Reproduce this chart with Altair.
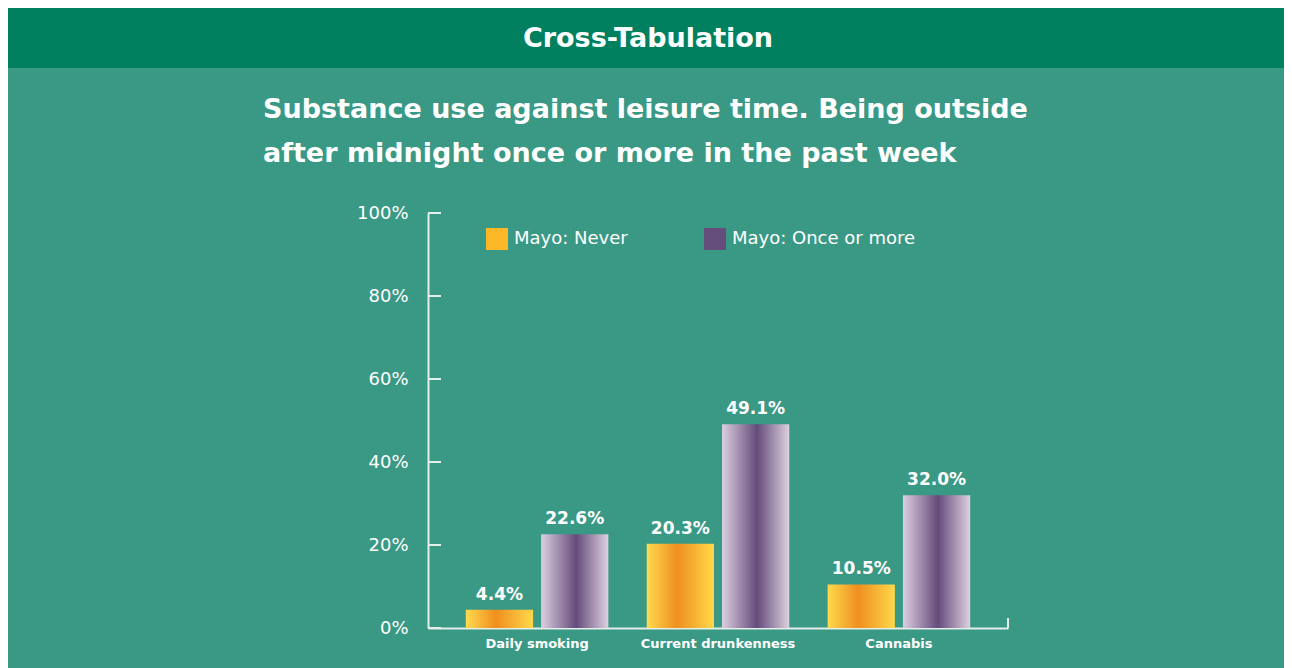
import altair as alt
import pandas as pd

categories = ["Daily smoking", "Current drunkenness", "Cannabis"]
series = ["Mayo: Never", "Mayo: Once or more"]
never_vals = [4.4, 20.3, 10.5]
once_vals = [22.6, 49.1, 32.0]
tick_vals = [0, 20, 40, 60, 80, 100]
header_text = "Cross-Tabulation"
subtitle_lines = ["Substance use against leisure time. Being outside",
                  "after midnight once or more in the past week"]

rows = []
for c, v in zip(categories, never_vals):
    rows.append({"cat": c, "series": series[0], "value": v, "label": f"{v:.1f}%"})
for c, v in zip(categories, once_vals):
    rows.append({"cat": c, "series": series[1], "value": v, "label": f"{v:.1f}%"})
df = pd.DataFrame(rows)
ticks_df = pd.DataFrame({"t": tick_vals})

W, H = 580, 415
PAD_L, PAD_T, PAD_R, PAD_B = 420, 205, 276, 40
FONT = "DejaVu Sans"
WHITE = "#ffffff"
LINE = "#e4eeeb"
BG = "#3a9985"
HEADER = "#00805f"

x_enc = alt.X("cat:N", sort=categories, title=None,
              scale=alt.Scale(paddingInner=0.212, paddingOuter=0.209),
              axis=alt.Axis(domain=True, domainColor=LINE, domainWidth=2, ticks=False,
                            labelAngle=0, labelFont=FONT, labelFontSize=13,
                            labelFontWeight=600, labelColor=WHITE, labelPadding=9))
xo_enc = alt.XOffset("series:N", sort=series,
                     scale=alt.Scale(paddingInner=0.107, paddingOuter=0))
y_enc = alt.Y("value:Q", title=None,
              scale=alt.Scale(domain=[0, 100], nice=False),
              axis=alt.Axis(values=tick_vals, labelExpr="datum.value + '%'",
                            domain=True, domainColor=LINE, domainWidth=2,
                            ticks=False, grid=False, labelFont=FONT,
                            labelFontSize=18, labelFontWeight="normal",
                            labelColor=WHITE, labelPadding=20))

base = alt.Chart(df)

grad_never = alt.Gradient(gradient="linear", x1=0, x2=1, y1=0, y2=0, stops=[
    alt.GradientStop(color="#ffda4e", offset=0),
    alt.GradientStop(color="#ef8f1f", offset=0.45),
    alt.GradientStop(color="#ffd84a", offset=1)])
grad_once = alt.Gradient(gradient="linear", x1=0, x2=1, y1=0, y2=0, stops=[
    alt.GradientStop(color="#dccfe0", offset=0),
    alt.GradientStop(color="#654b7b", offset=0.52),
    alt.GradientStop(color="#ddd1e1", offset=1)])

bars_never = base.transform_filter(alt.datum.series == series[0]).mark_bar(
    color=grad_never).encode(x=x_enc, xOffset=xo_enc, y=y_enc)
bars_once = base.transform_filter(alt.datum.series == series[1]).mark_bar(
    color=grad_once).encode(x=x_enc, xOffset=xo_enc, y=y_enc)

labels = base.mark_text(baseline="bottom", dy=-6, font=FONT, fontSize=17,
                        fontWeight=600, color=WHITE).encode(
    x=x_enc, xOffset=xo_enc, y=y_enc, text="label:N")

legend_layer = base.mark_point(shape="square", filled=True, size=0, opacity=0).encode(
    x=x_enc, xOffset=xo_enc, y=y_enc,
    color=alt.Color("series:N", sort=series,
                    scale=alt.Scale(domain=series, range=["#fdb827", "#654e7c"]),
                    legend=alt.Legend(title=None, orient="none", legendX=58, legendY=15,
                                      direction="horizontal", symbolType="square",
                                      symbolSize=484, symbolOpacity=1,
                                      symbolStrokeWidth=0, labelFont=FONT,
                                      labelFontSize=18, labelFontWeight="normal",
                                      labelColor=WHITE, labelOffset=6,
                                      columnPadding=76, labelLimit=400)))

inner_ticks = alt.Chart(ticks_df).mark_rule(color=LINE, strokeWidth=2).encode(
    y=alt.Y("t:Q", scale=alt.Scale(domain=[0, 100], nice=False)),
    x=alt.value(0), x2=alt.value(13))

end_tick = alt.Chart(alt.Data(values=[{}])).mark_rule(color=LINE, strokeWidth=2).encode(
    x=alt.value(W), y=alt.value(H - 10), y2=alt.value(H))

header_band = alt.Chart(alt.Data(values=[{}])).mark_rect(color=HEADER).encode(
    x=alt.value(-PAD_L), x2=alt.value(W + PAD_R),
    y=alt.value(-PAD_T), y2=alt.value(-PAD_T + 60))

header_lbl = alt.Chart(alt.Data(values=[{}])).mark_text(
    font=FONT, fontSize=27, fontWeight="bold", color=WHITE,
    align="center", baseline="middle").encode(
    x=alt.value(220), y=alt.value(-PAD_T + 31), text=alt.value(header_text))

subtitle = alt.Chart(alt.Data(values=[{}])).mark_text(
    font=FONT, fontSize=27, fontWeight="bold", color=WHITE,
    align="left", baseline="alphabetic", lineHeight=44).encode(
    x=alt.value(-165), y=alt.value(-95), text=alt.value(subtitle_lines))

chart = alt.layer(
    header_band, header_lbl, subtitle, inner_ticks, end_tick,
    bars_never, bars_once, labels, legend_layer
).properties(
    width=W, height=H,
    autosize=alt.AutoSizeParams(type="none"),
    padding={"left": PAD_L, "top": PAD_T, "right": PAD_R, "bottom": PAD_B},
    background=BG
).configure_view(stroke=None)

chart.save("out.html", embed_options={"renderer": "svg", "actions": False})
